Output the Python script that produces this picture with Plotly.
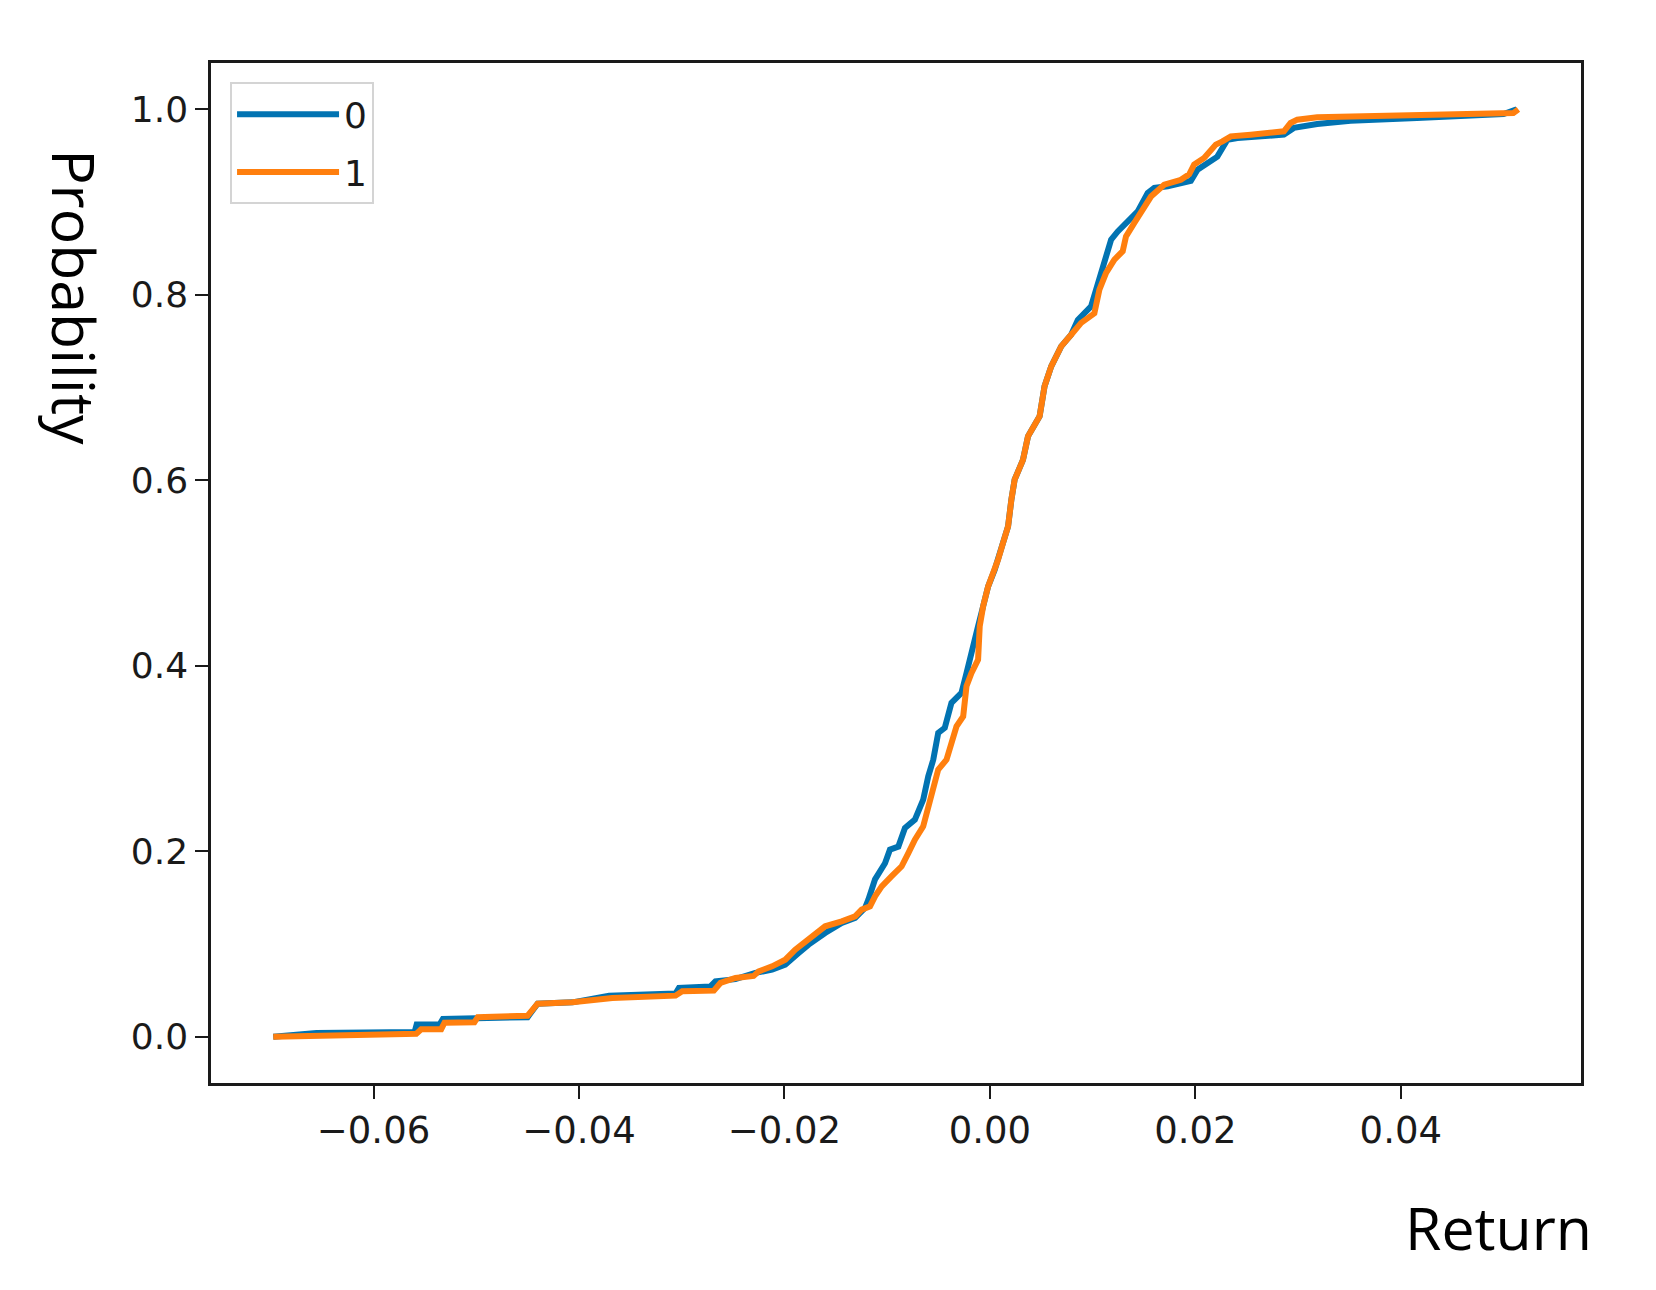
import plotly.graph_objects as go

# ECDF of returns, series "0" (blue) and "1" (orange)
ret_0 = [-0.06976, -0.06555, -0.05600, -0.05580, -0.05357, -0.05325, -0.04500, -0.04403,
         -0.04063, -0.03707, -0.03060, -0.03027, -0.02720, -0.02672, -0.02477, -0.02283,
         -0.02120, -0.01992, -0.01862, -0.01765, -0.01604, -0.01442, -0.01312, -0.01215,
         -0.01183, -0.01118, -0.01021, -0.00973, -0.00891, -0.00827, -0.00730, -0.00649,
         -0.00600, -0.00551, -0.00503, -0.00439, -0.00374, -0.00277, -0.00228, -0.00196,
         -0.00148, -0.00115, -0.00066, -0.00017, 0.00047, 0.00080, 0.00128, 0.00177,
         0.00209, 0.00241, 0.00322, 0.00371, 0.00484, 0.00532, 0.00597, 0.00694,
         0.00791, 0.00856, 0.00985, 0.01034, 0.01083, 0.01180, 0.01245, 0.01342,
         0.01439, 0.01536, 0.01600, 0.01730, 0.01891, 0.01956, 0.02021, 0.02214,
         0.02312, 0.02410, 0.02862, 0.02959, 0.03186, 0.03510, 0.04157, 0.04804,
         0.05000, 0.05128]
prob_0 = [0.000, 0.004, 0.005, 0.013, 0.013, 0.019, 0.021, 0.0356,
          0.037, 0.0442, 0.0464, 0.0525, 0.0542, 0.0596, 0.0620, 0.0687,
          0.0723, 0.0776, 0.0902, 0.0992, 0.1118, 0.1226, 0.1280, 0.1388,
          0.1477, 0.1696, 0.1870, 0.2017, 0.2050, 0.2250, 0.2340, 0.2556,
          0.2807, 0.2987, 0.3275, 0.3330, 0.3600, 0.3706, 0.3920, 0.4080,
          0.4246, 0.4425, 0.4640, 0.4856, 0.5036, 0.5144, 0.5324, 0.5503,
          0.5790, 0.6007, 0.6220, 0.6474, 0.6690, 0.7013, 0.7229, 0.7444,
          0.7570, 0.7730, 0.7875, 0.8056, 0.8236, 0.8595, 0.8684, 0.8790,
          0.8900, 0.9098, 0.9152, 0.9170, 0.9210, 0.9230, 0.9350, 0.9490,
          0.9673, 0.9690, 0.9727, 0.9800, 0.9842, 0.9878, 0.9907, 0.9935,
          0.9950, 1.0000]

ret_1 = [-0.06976, -0.06264, -0.05584, -0.05536, -0.05341, -0.05309, -0.05018, -0.04985,
         -0.04500, -0.04403, -0.04063, -0.03675, -0.03060, -0.02995, -0.02687, -0.02623,
         -0.02477, -0.02300, -0.02250, -0.02120, -0.01992, -0.01895, -0.01765, -0.01604,
         -0.01442, -0.01312, -0.01248, -0.01167, -0.01118, -0.01053, -0.00956, -0.00859,
         -0.00794, -0.00730, -0.00649, -0.00600, -0.00551, -0.00503, -0.00422, -0.00357,
         -0.00325, -0.00260, -0.00228, -0.00180, -0.00115, -0.00099, -0.00066, -0.00017,
         0.00047, 0.00080, 0.00128, 0.00177, 0.00209, 0.00241, 0.00322, 0.00371,
         0.00484, 0.00532, 0.00597, 0.00694, 0.00791, 0.00888, 0.01017, 0.01066,
         0.01131, 0.01212, 0.01293, 0.01325, 0.01406, 0.01503, 0.01568, 0.01697,
         0.01859, 0.01940, 0.01988, 0.02085, 0.02199, 0.02264, 0.02345, 0.02539,
         0.02862, 0.02927, 0.02992, 0.03186, 0.03833, 0.04480, 0.04998, 0.05095,
         0.05144]
prob_1 = [0.000, 0.001, 0.003, 0.008, 0.008, 0.015, 0.0155, 0.021,
          0.0226, 0.0356, 0.037, 0.0417, 0.0442, 0.0489, 0.0496, 0.0579,
          0.0633, 0.0655, 0.0704, 0.0758, 0.0830, 0.0938, 0.1046, 0.1190,
          0.1243, 0.1297, 0.1370, 0.1405, 0.1513, 0.1620, 0.1730, 0.1837,
          0.1980, 0.2125, 0.2268, 0.2484, 0.2700, 0.2880, 0.2987, 0.3200,
          0.3346, 0.3454, 0.3778, 0.3920, 0.4066, 0.4425, 0.4640, 0.4856,
          0.5036, 0.5144, 0.5324, 0.5503, 0.5790, 0.6007, 0.6220, 0.6474,
          0.6690, 0.7013, 0.7229, 0.7444, 0.7570, 0.7697, 0.7800, 0.8056,
          0.8236, 0.8380, 0.8470, 0.8630, 0.8775, 0.8954, 0.9060, 0.9188,
          0.9240, 0.9300, 0.9404, 0.9476, 0.9620, 0.9655, 0.9709, 0.9727,
          0.9763, 0.9853, 0.9889, 0.9914, 0.9925, 0.9935, 0.9943, 0.9960,
          1.0000]

series_names = ["0", "1"]
x_tick_vals = [-0.06, -0.04, -0.02, 0.00, 0.02, 0.04]
x_tick_text = ["\u22120.06", "\u22120.04", "\u22120.02", "0.00", "0.02", "0.04"]
y_tick_vals = [0.0, 0.2, 0.4, 0.6, 0.8, 1.0]
y_tick_text = ["0.0", "0.2", "0.4", "0.6", "0.8", "1.0"]

BLUE = "#0173B2"
ORANGE = "#FF7F0E"
X_TICK_FONT = dict(family="DejaVu Sans", size=37, color="#1a1a1a")
Y_TICK_FONT = dict(family="DejaVu Sans", size=36, color="#1a1a1a")
TITLE_FONT = dict(family="Open Sans", size=59, color="#000000")

fig = go.Figure()
fig.add_trace(go.Scatter(x=ret_0, y=prob_0, mode="lines", name=series_names[0],
                         legendgroup="g0", line=dict(color=BLUE, width=6)))
fig.add_trace(go.Scatter(x=ret_1, y=prob_1, mode="lines", name=series_names[1],
                         legendgroup="g1", line=dict(color=ORANGE, width=6)))

axis_common = dict(showgrid=False, zeroline=False, showline=True, mirror=True,
                   linecolor="#1a1a1a", linewidth=2.5, ticks="outside",
                   tickcolor="#1a1a1a", tickwidth=2, ticklen=13)

fig.update_xaxes(range=[-0.07582, 0.05754], tickvals=x_tick_vals, ticktext=x_tick_text,
                 tickfont=X_TICK_FONT, **axis_common)
fig.update_yaxes(range=[-0.05, 1.05], tickvals=y_tick_vals, ticktext=y_tick_text,
                 tickfont=Y_TICK_FONT, **axis_common)

fig.add_annotation(text="Return", xref="paper", yref="paper", x=1.0095, y=-0.1416,
                   xanchor="right", yanchor="middle", showarrow=False, font=TITLE_FONT)
fig.add_annotation(text="Probability", xref="paper", yref="paper", x=-0.0993, y=0.7705,
                   xanchor="center", yanchor="middle", textangle=90, showarrow=False,
                   font=TITLE_FONT)

fig.update_layout(
    width=1656, height=1290,
    margin=dict(l=203, r=83, t=55, b=215),
    paper_bgcolor="white", plot_bgcolor="white",
    showlegend=True,
    legend=dict(x=0.0139, y=0.981, xanchor="left", yanchor="top",
                bgcolor="white", bordercolor="#d4d4d4", borderwidth=2,
                font=dict(family="DejaVu Sans", size=36, color="#1a1a1a"),
                tracegroupgap=8, itemwidth=102),
)

fig.write_html("out.html")
